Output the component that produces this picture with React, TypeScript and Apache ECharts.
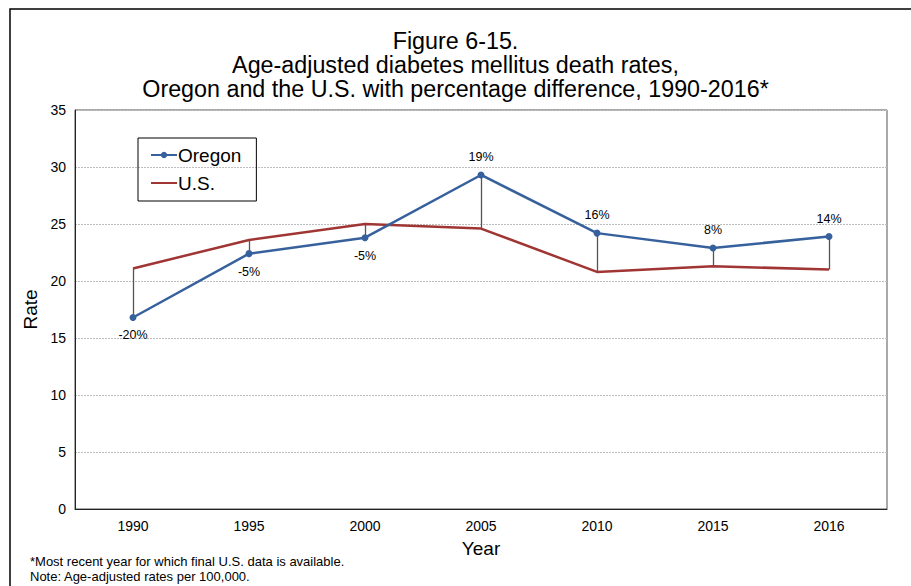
import React, { useEffect, useRef } from "react";
import * as echarts from "echarts";

const years = ["1990", "1995", "2000", "2005", "2010", "2015", "2016"];
const oregon = [16.8, 22.4, 23.8, 29.3, 24.2, 22.9, 23.9];
const us = [21.1, 23.6, 25.0, 24.6, 20.8, 21.3, 21.0];
const pctDiff = ["-20%", "-5%", "-5%", "19%", "16%", "8%", "14%"];
const titleLines = [
  "Figure 6-15.",
  "Age-adjusted diabetes mellitus death rates,",
  "Oregon and the U.S. with percentage difference, 1990-2016*",
];
const footnotes = [
  "*Most recent year for which final U.S. data is available.",
  "Note: Age-adjusted rates per 100,000.",
];

const FONT = "'Liberation Sans', Arial, sans-serif";
const BLUE = "#37619d";
const RED = "#a03634";

export default function App() {
  const ref = useRef<HTMLDivElement>(null);
  useEffect(() => {
    if (!ref.current) return;
    const chart = echarts.init(ref.current, null, { renderer: "svg" });
    chart.setOption({
      animation: false,
      textStyle: { fontFamily: FONT },
      title: {
        text: titleLines.join("\n"),
        left: "center",
        top: 24,
        textStyle: { fontFamily: FONT, fontSize: 23.3, fontWeight: "normal", color: "#000", lineHeight: 24 },
      },
      legend: {
        orient: "vertical",
        left: 138,
        top: 138,
        padding: [7, 15, 8, 12],
        itemGap: 8,
        itemWidth: 26,
        itemHeight: 8,
        borderColor: "#000",
        borderWidth: 1,
        textStyle: { fontFamily: FONT, fontSize: 19, color: "#000", padding: [0, 0, 0, -4], lineHeight: 20 },
        data: [
          { name: "Oregon" },
          { name: "U.S.", icon: "path://M0,0H40V3H0Z" },
        ],
      },
      grid: {
        left: 75,
        right: 24,
        top: 110,
        bottom: 77,
        show: true,
        borderColor: "#555",
        borderWidth: 1,
        containLabel: false,
      },
      xAxis: {
        type: "category",
        data: years,
        boundaryGap: true,
        name: "Year",
        nameLocation: "middle",
        nameGap: 30,
        nameTextStyle: { fontFamily: FONT, fontSize: 19, color: "#000" },
        axisLine: { lineStyle: { color: "#222", width: 1 } },
        axisTick: { show: false },
        axisLabel: { fontFamily: FONT, fontSize: 14, color: "#000", margin: 10 },
      },
      yAxis: {
        type: "value",
        min: 0,
        max: 35,
        interval: 5,
        name: "Rate",
        nameLocation: "middle",
        nameGap: 31,
        nameTextStyle: { fontFamily: FONT, fontSize: 19, color: "#000" },
        axisLine: { show: true, lineStyle: { color: "#222", width: 1 } },
        axisTick: { show: false },
        axisLabel: { fontFamily: FONT, fontSize: 14, color: "#000", margin: 9 },
        splitLine: { lineStyle: { color: "#bdbdbd", type: [2, 1], width: 1 } },
      },
      series: [
        {
          name: "U.S.",
          type: "line",
          data: us,
          symbol: "none",
          lineStyle: { color: RED, width: 2.5 },
          itemStyle: { color: RED },
          z: 3,
          markLine: {
            silent: true,
            symbol: ["none", "none"],
            label: { show: false },
            lineStyle: { color: "#555", width: 1.3, type: "solid" },
            z: 1,
            data: years.map((y, i) => [
              { coord: [y, oregon[i]] },
              { coord: [y, us[i]] },
            ]),
          },
        },
        {
          name: "Oregon",
          type: "line",
          data: oregon.map((v, i) => ({
            value: v,
            label: { position: pctDiff[i].startsWith("-") ? "bottom" : "top" },
          })),
          symbol: "circle",
          symbolSize: 7,
          lineStyle: { color: BLUE, width: 2.5 },
          itemStyle: { color: BLUE },
          z: 4,
          label: {
            show: true,
            distance: 8,
            fontFamily: FONT,
            fontSize: 12.5,
            color: "#000",
            formatter: (p: any) => pctDiff[p.dataIndex],
          },
        },
      ],
      graphic: [
        {
          type: "rect",
          shape: { x: 10, y: 9, width: 1000, height: 1000 },
          style: { fill: "none", stroke: "#000", lineWidth: 1.5 },
          silent: true,
        },
        ...footnotes.map((t, i) => ({
          type: "text",
          left: 30,
          top: 555 + i * 15,
          style: { text: t, fontFamily: FONT, fontSize: 13, fill: "#000" },
        })),
      ],
    });
    return () => chart.dispose();
  }, []);
  return (
    <div
      ref={ref}
      style={{ position: "absolute", left: 0, top: 0, width: 911, height: 586 }}
    />
  );
}
